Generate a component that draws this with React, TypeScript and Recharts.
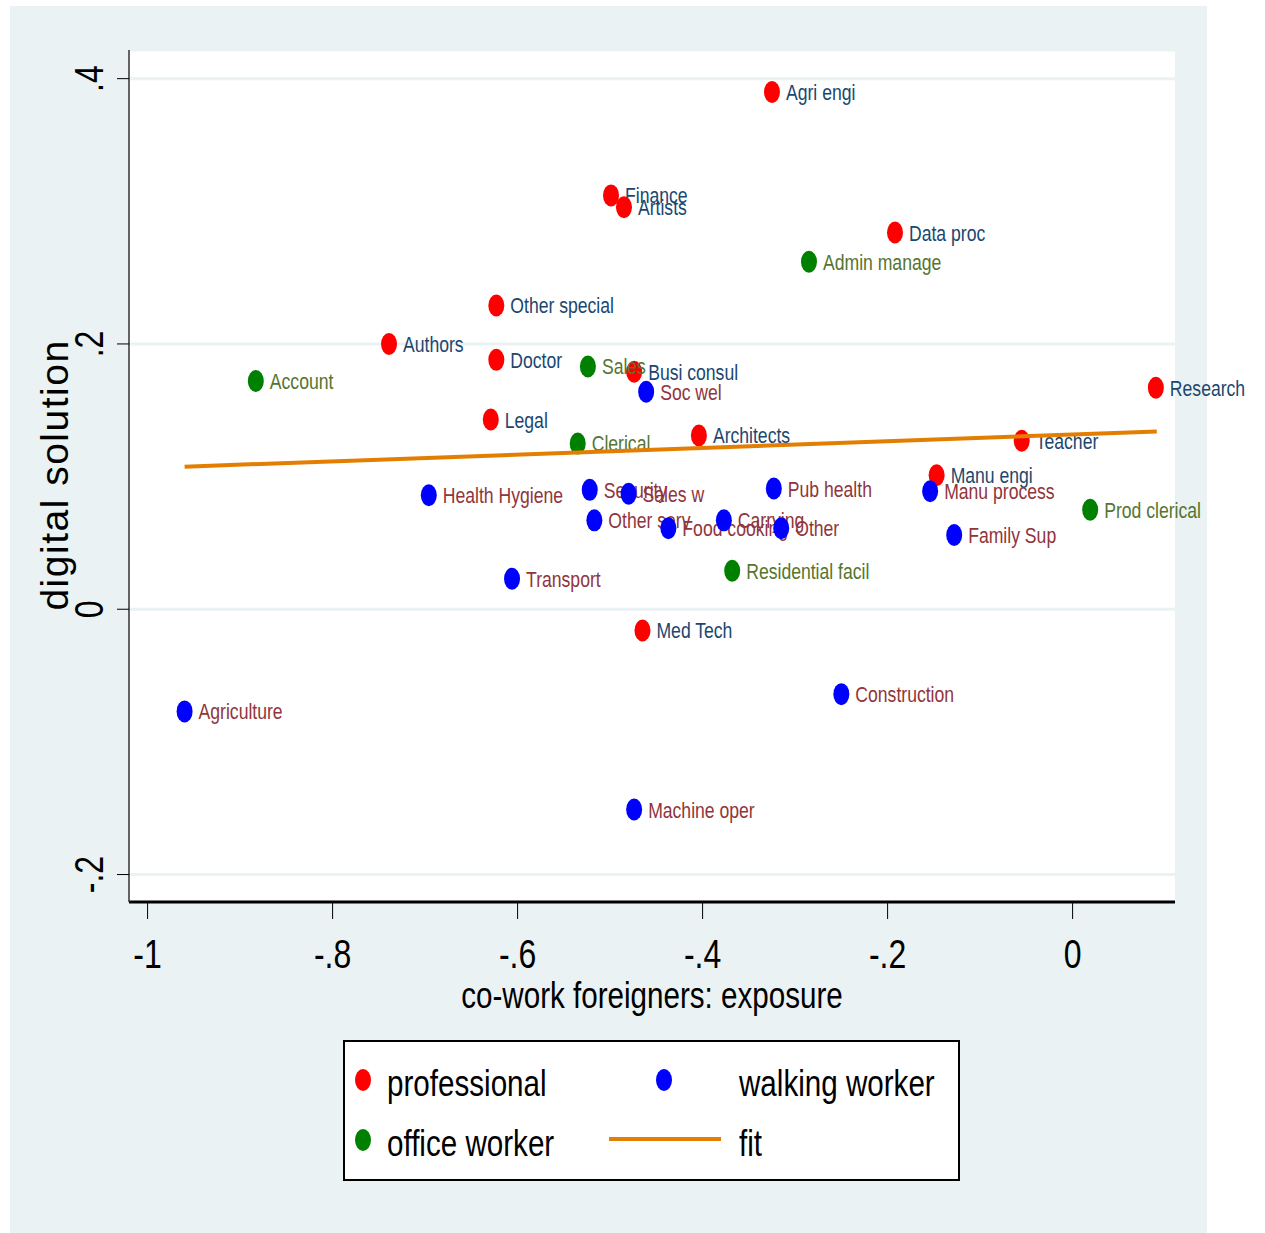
import { CartesianGrid, Legend, Scatter, ScatterChart, XAxis, YAxis } from "recharts";

const profNames = ["Agri engi", "Finance", "Artists", "Data proc", "Other special", "Authors", "Doctor", "Busi consul", "Legal", "Architects", "Teacher", "Manu engi", "Research", "Med Tech"];
const profX = [-0.325, -0.499, -0.485, -0.192, -0.623, -0.739, -0.623, -0.474, -0.629, -0.404, -0.055, -0.147, 0.090, -0.465];
const profY = [0.390, 0.312, 0.303, 0.284, 0.229, 0.200, 0.188, 0.179, 0.143, 0.131, 0.127, 0.101, 0.167, -0.016];

const walkNames = ["Soc wel", "Health Hygiene", "Security", "Sales w", "Pub health", "Manu process", "Other serv", "Food cooking", "Carrying", "Other", "Family Sup", "Transport", "Construction", "Agriculture", "Machine oper"];
const walkX = [-0.461, -0.696, -0.522, -0.480, -0.323, -0.154, -0.517, -0.437, -0.377, -0.315, -0.128, -0.606, -0.250, -0.960, -0.474];
const walkY = [0.164, 0.086, 0.090, 0.087, 0.091, 0.089, 0.067, 0.061, 0.067, 0.061, 0.056, 0.023, -0.064, -0.077, -0.151];

const officeNames = ["Admin manage", "Account", "Sales", "Clerical", "Prod clerical", "Residential facil"];
const officeX = [-0.285, -0.883, -0.524, -0.535, 0.019, -0.368];
const officeY = [0.262, 0.172, 0.183, 0.125, 0.075, 0.029];

const fitX = [-0.960, 0.091];
const fitY = [0.1075, 0.134];

const xTicks = [-1, -0.8, -0.6, -0.4, -0.2, 0];
const yTicks = [-0.2, 0, 0.2, 0.4];

const BG = "#eaf2f3";
const FONT = "'Liberation Sans', Arial, sans-serif";
const SQUEEZE = 0.8;

const series = [
  { key: "professional", marker: "#ff0000", text: "#1a476f" },
  { key: "walking worker", marker: "#0000ff", text: "#90353b" },
  { key: "office worker", marker: "#008000", text: "#55752f" },
];
const FIT = "#e37e00";

const rows = (names: string[], xs: number[], ys: number[]) =>
  names.map((name, i) => ({ name, x: xs[i], y: ys[i] }));

const profData = rows(profNames, profX, profY);
const walkData = rows(walkNames, walkX, walkY);
const officeData = rows(officeNames, officeX, officeY);
const fitData = fitX.map((x, i) => ({ x, y: fitY[i] }));

const fmt = (v: number) => {
  if (v === 0) return "0";
  const s = String(Math.round(v * 10) / 10);
  return s.replace("0.", ".");
};

// condensed text, like Stata's default narrow face
function NText({ x, y, size, fill = "#000", anchor = "start", rot = 0, children }: any) {
  return (
    <text
      transform={`translate(${x},${y}) rotate(${rot}) scale(${SQUEEZE},1)`}
      fontSize={size}
      fontFamily={FONT}
      fill={fill}
      textAnchor={anchor}
    >
      {children}
    </text>
  );
}

function labelled(marker: string, text: string) {
  return (p: any) => {
    const { cx, cy, payload } = p;
    return (
      <g>
        <ellipse cx={cx} cy={cy} rx={8} ry={11} fill={marker} />
        <NText x={cx + 14} y={cy + 8} size={22} fill={text}>
          {payload.name}
        </NText>
      </g>
    );
  };
}

function XTick({ x, y, payload }: any) {
  return (
    <NText x={x} y={y + 47} size={40} anchor="middle">
      {fmt(payload.value)}
    </NText>
  );
}

function YTick({ x, y, payload }: any) {
  return (
    <NText x={x - 12} y={y} size={40} anchor="middle" rot={-90}>
      {fmt(payload.value)}
    </NText>
  );
}

function LegendBox() {
  const item = (cx: number, cy: number, color: string) => (
    <ellipse cx={cx} cy={cy} rx={8} ry={11} fill={color} />
  );
  const lbl = (x: number, y: number, s: string) => (
    <NText x={x} y={y} size={37}>{s}</NText>
  );
  return (
    <svg width={618} height={142} style={{ display: "block" }}>
      <rect x={1} y={1} width={615} height={139} fill="#fff" stroke="#000" strokeWidth={2} />
      {item(20, 40, series[0].marker)}
      {lbl(44, 56, series[0].key)}
      {item(321, 40, series[1].marker)}
      {lbl(396, 56, series[1].key)}
      {item(20, 100, series[2].marker)}
      {lbl(44, 116, series[2].key)}
      <line x1={266} y1={99} x2={378} y2={99} stroke={FIT} strokeWidth={4} />
      {lbl(396, 116, "fit")}
    </svg>
  );
}

export default function App() {
  return (
    <div style={{ position: "absolute", left: 0, top: 0, width: 1265, height: 1233, background: "#fff" }}>
      <div style={{ position: "absolute", left: 10, top: 6, width: 1197, height: 1227, background: BG }} />
      <div style={{ position: "absolute", left: 0, top: 0 }}>
        <ScatterChart width={1265} height={1233} margin={{ top: 50, right: 90, bottom: 0, left: 0 }}>
          <CartesianGrid vertical={false} stroke={BG} strokeWidth={3} fill="#ffffff" />
          <XAxis
            type="number"
            dataKey="x"
            domain={[-1.0201, 0.1107]}
            ticks={xTicks}
            height={331}
            tickSize={17}
            tick={<XTick />}
            axisLine={{ stroke: "#000", strokeWidth: 3 }}
            tickLine={{ stroke: "#000", strokeWidth: 1 }}
            label={{
              content: () => (
                <NText x={652} y={1008} size={37} anchor="middle">
                  co-work foreigners: exposure
                </NText>
              ),
            }}
          />
          <YAxis
            type="number"
            dataKey="y"
            domain={[-0.2207, 0.4216]}
            ticks={yTicks}
            width={129}
            tickSize={12}
            tick={<YTick />}
            axisLine={{ stroke: "#333", strokeWidth: 1.5 }}
            tickLine={{ stroke: "#000", strokeWidth: 1 }}
            label={{
              content: () => (
                <text
                  transform="translate(68,475) rotate(-90)"
                  textAnchor="middle"
                  fontSize={39}
                  letterSpacing={1.5}
                  fontFamily={FONT}
                  fill="#000"
                >
                  digital solution
                </text>
              ),
            }}
          />
          <Scatter name="professional" data={profData} isAnimationActive={false} shape={labelled(series[0].marker, series[0].text)} />
          <Scatter name="walking worker" data={walkData} isAnimationActive={false} shape={labelled(series[1].marker, series[1].text)} />
          <Scatter name="office worker" data={officeData} isAnimationActive={false} shape={labelled(series[2].marker, series[2].text)} />
          <Scatter
            name="fit"
            data={fitData}
            isAnimationActive={false}
            line={{ stroke: FIT, strokeWidth: 4 }}
            shape={() => <g />}
          />
          <Legend
            layout="horizontal"
            verticalAlign="middle"
            align="center"
            wrapperStyle={{ left: 343, top: 1040, width: 618, height: 142 }}
            content={() => <LegendBox />}
          />
        </ScatterChart>
      </div>
    </div>
  );
}
